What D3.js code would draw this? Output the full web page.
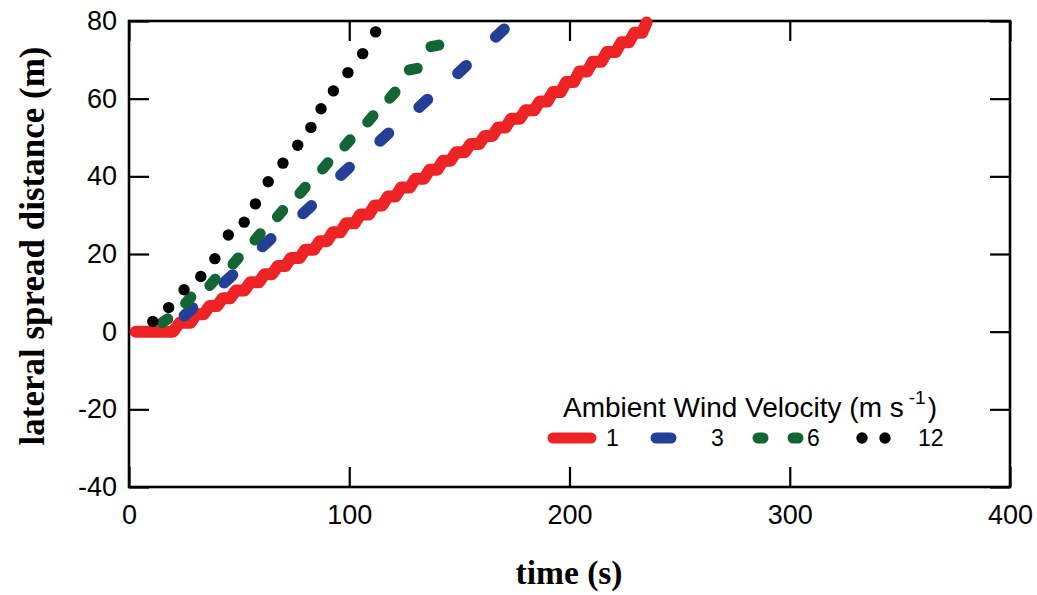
<!DOCTYPE html>
<html><head><meta charset="utf-8">
<script src="https://cdn.jsdelivr.net/npm/d3@7"></script>
<style>body{margin:0;background:#fff}svg{display:block}</style>
</head><body>
<svg id="c" width="1037" height="595"></svg>
<script>
// ---- data ----
const xTicks = [0, 100, 200, 300, 400];
const yTicks = [-40, -20, 0, 20, 40, 60, 80];
const legendTitle = "Ambient Wind Velocity (m s";
const legendSup = "-1";
const seriesNames = ["1", "3", "6", "12"];
// 1 m/s : stepped spread line [time, distance]
const wind1 = [[3,0],[20,0],[23,2.3],[28,2.3],[30.5,4.5],[34,4.5],[36.5,6.6],[40,6.6],[42.5,8.6],[46,8.6],
 [48.5,10.6],[52.5,10.6],[55,12.7],[59,12.7],[61.5,14.8],[65,14.8],[67.5,16.9],[71,16.9],[73.5,19.0],[77.5,19.0],
 [80,21.1],[84,21.1],[86.5,23.3],[90,23.3],[92.5,25.6],[96,25.6],[98.5,27.9],[102.5,27.9],[105,30.2],[109,30.2],
 [111.5,32.5],[115,32.5],[117.5,34.8],[121,34.8],[123.5,37.1],[127.5,37.1],[130,39.4],[134,39.4],[136.5,41.7],[140,41.7],
 [142.5,44.0],[146,44.0],[148.5,46.2],[152.5,46.2],[155,48.3],[159,48.3],[161.5,50.4],[165,50.4],[167.5,52.6],[171,52.6],
 [173.5,54.8],[177.5,54.8],[180,57.0],[184,57.0],[186.5,59.3],[190,59.3],[192.5,61.7],[196,61.7],[198.5,64.3],[202,64.3],
 [204.5,67.0],[208,67.0],[210.5,69.5],[214.5,69.5],[217,72.0],[221,72.0],[223.5,74.5],[227,74.5],[229.5,77.0],[233,77.0],[235,79.6]];
// 3 m/s : dashes [t0, d0, t1, d1]
const wind3 = [[25.1,4.1,28.9,6.1],[43.2,12.6,47.0,14.6],[60.6,21.9,64.4,23.9],[79.0,30.4,82.8,32.4],[96.2,40.3,100.0,42.3],
 [114.0,49.1,117.8,51.1],[131.7,57.8,135.5,59.8],[149.3,66.5,153.1,68.5],[166.5,75.9,170.3,77.9]];
// 6 m/s : dashes [t0, d0, t1, d1]
const wind6 = [[15.0,2.3,17.6,3.3],[25.7,7.3,28.1,8.9],[36.7,11.9,39.1,13.5],[47.2,17.4,49.6,19.0],[57.2,23.6,59.6,25.2],
 [67.4,29.6,69.8,31.2],[77.6,35.6,80.0,37.2],[87.9,41.9,90.3,43.5],[98.0,47.8,100.4,49.4],[108.4,54.0,110.8,55.6],
 [118.4,60.1,120.8,61.7],[127.3,67.4,130.9,67.8],[137.1,73.4,140.7,73.8]];
// 12 m/s : dots [time, distance]
const wind12 = [[10.8,2.6],[18.0,6.2],[25.0,10.8],[32.6,14.2],[39.0,18.8],[45.1,24.9],[52.3,28.2],[57.4,32.9],[63.2,38.6],
 [69.9,43.4],[76.6,48.0],[82.6,52.6],[87.2,57.4],[92.8,62.0],[99.4,66.7],[106.1,71.6],[112.0,77.2]];

const colors = {w1:"#ee2326", w3:"#233f96", w6:"#136534", w12:"#000000"};

// ---- layout ----
const svg = d3.select("#c");
const L = 129, R = 1010, T = 21, B = 487;
const x = d3.scaleLinear().domain([0, 400]).range([L, R]);
const y = d3.scaleLinear().domain([-40, 80]).range([B, T]);
const sans = "'Liberation Sans', Arial, sans-serif";
const serif = "'Liberation Serif', 'Times New Roman', serif";
const fmt = d => String(d);

function styleAxis(g) {
  g.select(".domain").remove();
  g.selectAll(".tick line").attr("stroke", "#000").attr("stroke-width", 2.2);
  g.selectAll(".tick text").attr("font-family", sans).attr("font-size", 27).attr("fill", "#000");
}
svg.append("g").attr("transform", `translate(0,${B})`)
  .call(d3.axisBottom(x).tickValues(xTicks).tickSize(-20).tickPadding(18).tickFormat(fmt))
  .call(styleAxis);
svg.append("g").attr("transform", `translate(0,${T})`)
  .call(d3.axisTop(x).tickValues(xTicks).tickSize(-20).tickFormat(""))
  .call(styleAxis);
svg.append("g").attr("transform", `translate(${L},0)`)
  .call(d3.axisLeft(y).tickValues(yTicks).tickSize(-20).tickPadding(12).tickFormat(fmt))
  .call(styleAxis);
svg.append("g").attr("transform", `translate(${R},0)`)
  .call(d3.axisRight(y).tickValues(yTicks).tickSize(-20).tickFormat(""))
  .call(styleAxis);

svg.append("rect").attr("x", L).attr("y", T).attr("width", R - L).attr("height", B - T)
  .attr("fill", "none").attr("stroke", "#000").attr("stroke-width", 2.6);

// ---- series ----
const line = d3.line().x(d => x(d[0])).y(d => y(d[1]));
svg.append("path").datum(wind1).attr("d", line)
  .attr("fill", "none").attr("stroke", colors.w1).attr("stroke-width", 12)
  .attr("stroke-linecap", "round").attr("stroke-linejoin", "round");

svg.append("g").selectAll("line").data(wind3).join("line")
  .attr("x1", d => x(d[0])).attr("y1", d => y(d[1])).attr("x2", d => x(d[2])).attr("y2", d => y(d[3]))
  .attr("stroke", colors.w3).attr("stroke-width", 11.5).attr("stroke-linecap", "round");

svg.append("g").selectAll("line").data(wind6).join("line")
  .attr("x1", d => x(d[0])).attr("y1", d => y(d[1])).attr("x2", d => x(d[2])).attr("y2", d => y(d[3]))
  .attr("stroke", colors.w6).attr("stroke-width", 11).attr("stroke-linecap", "round");

svg.append("g").selectAll("circle").data(wind12).join("circle")
  .attr("cx", d => x(d[0])).attr("cy", d => y(d[1])).attr("r", 5.7).attr("fill", colors.w12);

// ---- legend ----
const lg = svg.append("g");
const t = lg.append("text").attr("x", 563).attr("y", 417).attr("font-family", sans).attr("font-size", 28).attr("fill", "#000");
t.append("tspan").text(legendTitle);
t.append("tspan").attr("dx", 5).attr("dy", -13).attr("font-size", 19).text(legendSup);
t.append("tspan").attr("dx", 2).attr("dy", 13).text(")");

const ly = 438;
lg.append("line").attr("x1", 553).attr("x2", 591).attr("y1", ly).attr("y2", ly)
  .attr("stroke", colors.w1).attr("stroke-width", 11).attr("stroke-linecap", "round");
lg.append("line").attr("x1", 656).attr("x2", 671).attr("y1", ly).attr("y2", ly)
  .attr("stroke", colors.w3).attr("stroke-width", 11).attr("stroke-linecap", "round");
[[758, 763], [793, 798]].forEach(s => lg.append("line").attr("x1", s[0]).attr("x2", s[1]).attr("y1", ly).attr("y2", ly)
  .attr("stroke", colors.w6).attr("stroke-width", 11).attr("stroke-linecap", "round"));
[862, 885].forEach(cx => lg.append("circle").attr("cx", cx).attr("cy", ly).attr("r", 5.7).attr("fill", colors.w12));
const labX = [606, 711, 807, 918];
lg.selectAll(".ll").data(seriesNames).join("text").attr("class", "ll")
  .attr("x", (d, i) => labX[i]).attr("y", 446).attr("font-family", sans).attr("font-size", 23).text(d => d);

// ---- axis titles ----
svg.append("text").attr("x", 569).attr("y", 584).attr("text-anchor", "middle")
  .attr("font-family", serif).attr("font-weight", "bold").attr("font-size", 33.5).text("time (s)");
svg.append("text").attr("transform", "translate(44,246) rotate(-90)").attr("text-anchor", "middle")
  .attr("font-family", serif).attr("font-weight", "bold").attr("font-size", 35).text("lateral spread distance (m)");
</script>
</body></html>
